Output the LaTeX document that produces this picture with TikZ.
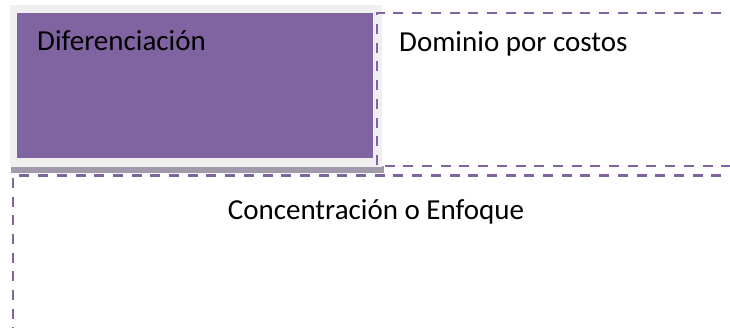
\documentclass[tikz,border=0pt]{standalone}
\usepackage{fontspec}
\setmainfont{Carlito}
\definecolor{morado}{RGB}{128,100,162}
\definecolor{marco}{RGB}{240,240,240}
\definecolor{sombra}{RGB}{160,154,170}

\begin{document}
\begin{tikzpicture}[x=1pt,y=-1pt,
  borde/.style={draw=morado,line width=2.2pt,dash pattern=on 10pt off 8.7pt},
  rotulo/.style={font=\fontsize{29}{34}\selectfont,inner sep=0pt}]
 \useasboundingbox (0,0) rectangle (730,327);
 % recuadro con sombra
 \fill[sombra] (11,166) rectangle (384,172.5);
 \fill[marco] (10,5) rectangle (382,167);
 \fill[morado] (17,13) rectangle (373,158);
 % cuadros punteados
 \draw[borde] (740,13) -- (377,13) -- (377,166) -- (740,166);
 \draw[borde] (740,175.5) -- (13,175.5) -- (13,340);
 \node[rotulo,anchor=base west] (dif) at (37,50) {Diferenciación};
 \node[rotulo,anchor=base west] (dom) at (399,51.5) {Dominio por costos};
 \node[rotulo,anchor=base] (con) at (376,219) {Concentración o Enfoque};
\end{tikzpicture}
\end{document}
